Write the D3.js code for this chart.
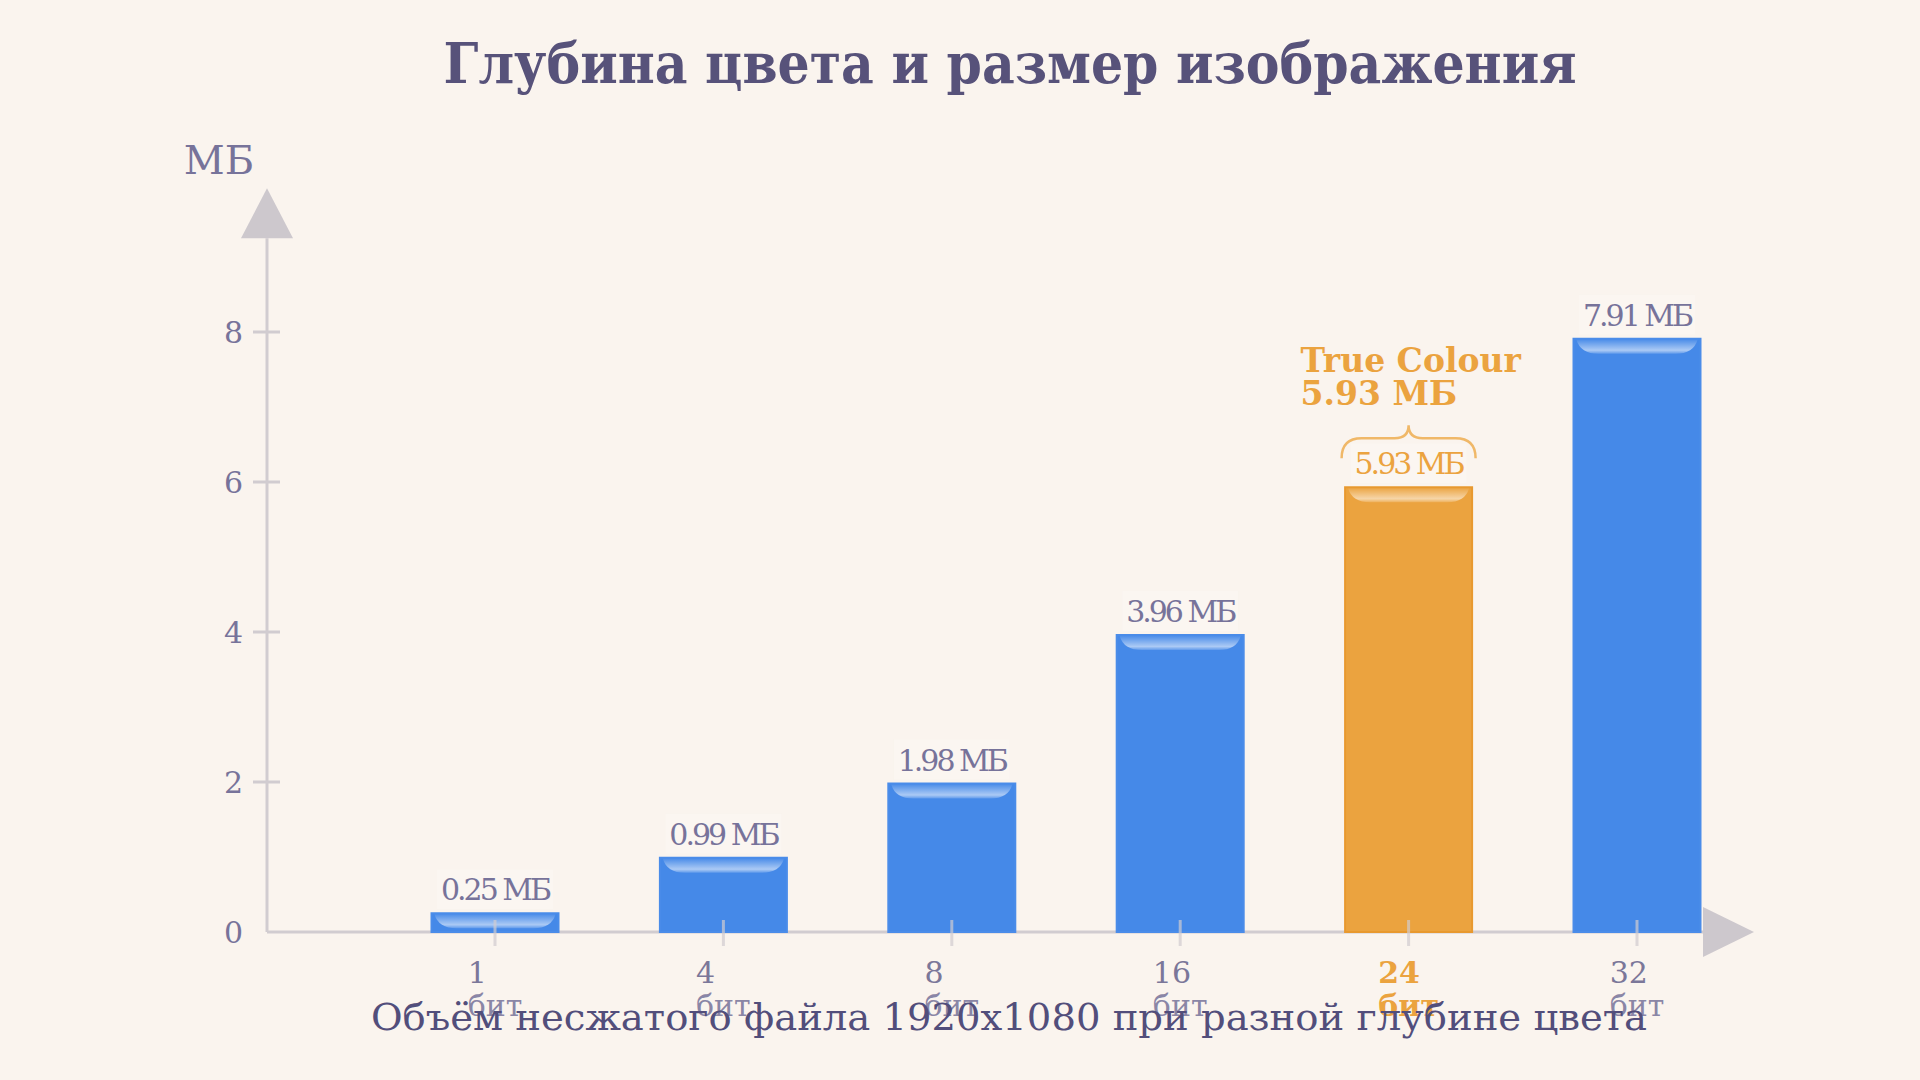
<!DOCTYPE html>
<html>
<head>
<meta charset="utf-8">
<script src="https://cdn.jsdelivr.net/npm/d3@7"></script>
<style>
  html, body { margin: 0; padding: 0; background: #faf4ee; }
  svg { display: block; }
  text { font-family: "DejaVu Serif", serif; }
</style>
</head>
<body>
<div id="chart"></div>
<script>
// data
const categories = ['1', '4', '8', '16', '24', '32'];
const sizes = [0.25, 0.99, 1.98, 3.96, 5.93, 7.91];
const valueLabels = ['0.25 МБ', '0.99 МБ', '1.98 МБ', '3.96 МБ', '5.93 МБ', '7.91 МБ'];
const yTicks = [0, 2, 4, 6, 8];
const highlight = '24';

const width = 1920,
      height = 1080,
      blue = '#4589e8',
      orange = '#eba33f',
      axisGrey = '#d1ccd0',
      labelGrey = '#77739a';

const svg = d3.select('#chart').append('svg')
  .attr('width', width)
  .attr('height', height);

svg.append('rect').attr('width', width).attr('height', height).attr('fill', '#faf4ee');

// glossy strip at the top of each bar
const defs = svg.append('defs');
const hl = defs.append('linearGradient').attr('id', 'hl').attr('x1', 0).attr('y1', 0).attr('x2', 0).attr('y2', 1);
hl.append('stop').attr('offset', '0%').attr('stop-color', '#fff').attr('stop-opacity', 0.05);
hl.append('stop').attr('offset', '75%').attr('stop-color', '#fff').attr('stop-opacity', 0.55);
hl.append('stop').attr('offset', '100%').attr('stop-color', '#fff').attr('stop-opacity', 0.15);

// scales
const x = d3.scalePoint().domain(categories).range([495, 1637]);
const y = d3.scaleLinear().domain([0, 8]).range([932, 332]);
const barW = 127;
const axisLeft = 267, axisRight = 1703, yTop = y(9.25);

// title
svg.append('text')
  .attr('x', 1010).attr('y', 83)
  .attr('text-anchor', 'middle')
  .attr('font-size', 56).attr('font-weight', 'bold')
  .attr('fill', '#57527a')
  .attr('textLength', 1133).attr('lengthAdjust', 'spacingAndGlyphs')
  .text('Глубина цвета и размер изображения');

// y axis
svg.append('line')
  .attr('x1', axisLeft).attr('x2', axisLeft)
  .attr('y1', y(0)).attr('y2', yTop)
  .attr('stroke', axisGrey).attr('stroke-width', 3);
svg.append('path')
  .attr('d', `M${axisLeft - 26},${yTop} L${axisLeft + 26},${yTop} L${axisLeft},${yTop - 50} Z`)
  .attr('fill', '#cdc8cd');
svg.append('text')
  .attr('x', 219).attr('y', 174)
  .attr('text-anchor', 'middle')
  .attr('font-size', 40).attr('fill', labelGrey)
  .text('МБ');

const yAxis = svg.append('g').selectAll('g').data(yTicks).enter().append('g');
yAxis.append('line')
  .attr('x1', axisLeft - 14).attr('x2', axisLeft + 13)
  .attr('y1', d => y(d)).attr('y2', d => y(d))
  .attr('stroke', axisGrey).attr('stroke-width', 3)
  .attr('display', d => d === 0 ? 'none' : null);
yAxis.append('text')
  .attr('x', 243).attr('y', d => y(d) + 11)
  .attr('text-anchor', 'end')
  .attr('font-size', 30).attr('fill', labelGrey)
  .text(d => d);

// x axis line (under the bars)
svg.append('line')
  .attr('x1', axisLeft).attr('x2', axisRight)
  .attr('y1', y(0)).attr('y2', y(0))
  .attr('stroke', axisGrey).attr('stroke-width', 3);

// bars
const bars = svg.append('g').selectAll('g').data(categories).enter().append('g');
bars.append('rect')
  .attr('x', d => x(d) - barW / 2)
  .attr('y', (d, i) => y(sizes[i]))
  .attr('width', barW)
  .attr('height', (d, i) => y(0) - y(sizes[i]))
  .attr('fill', d => d === highlight ? orange : blue)
  .attr('stroke', d => d === highlight ? '#e8992f' : '#4a8ce9')
  .attr('stroke-width', 2);
bars.append('path')
  .attr('d', (d, i) => {
    const x0 = x(d) - barW / 2 + 3, x1 = x(d) + barW / 2 - 3, t = y(sizes[i]) + 1;
    const h = Math.min(14, y(0) - y(sizes[i]) - 3);
    return `M${x0},${t} L${x1},${t} Q${x1 - 4},${t + h} ${x1 - 22},${t + h} L${x0 + 22},${t + h} Q${x0 + 4},${t + h} ${x0},${t} Z`;
  })
  .attr('fill', 'url(#hl)');

// value labels
bars.append('rect')
  .attr('x', d => x(d) - 58)
  .attr('y', (d, i) => y(sizes[i]) - 44)
  .attr('width', 116).attr('height', 40)
  .attr('fill', '#fcf8f4').attr('opacity', 0.5);
bars.append('text')
  .attr('x', d => x(d))
  .attr('y', (d, i) => y(sizes[i]) - 13)
  .attr('text-anchor', 'middle')
  .attr('font-size', 30)
  .attr('letter-spacing', -3)
  .attr('fill', d => d === highlight ? orange : labelGrey)
  .text((d, i) => valueLabels[i]);

// x axis arrow and ticks
svg.append('path')
  .attr('d', `M${axisRight},${y(0) - 25} L${axisRight},${y(0) + 25} L${axisRight + 51},${y(0)} Z`)
  .attr('fill', '#cdc8cd');

const xAxis = svg.append('g').selectAll('g').data(categories).enter().append('g');
xAxis.append('line')
  .attr('x1', d => x(d)).attr('x2', d => x(d))
  .attr('y1', y(0) - 12).attr('y2', y(0) + 14)
  .attr('stroke', axisGrey).attr('stroke-width', 3).attr('opacity', 0.7);

// two-line tick label, left aligned as a block centred on the tick
xAxis.each(function (d) {
  const g = d3.select(this);
  const t = g.append('text')
    .attr('font-size', 30)
    .attr('font-weight', d === highlight ? 'bold' : null)
    .attr('fill', d === highlight ? orange : '#7b7799');
  const l1 = t.append('tspan').attr('y', 983).text(d);
  const l2 = t.append('tspan').attr('y', 1016).text('бит')
    .attr('fill', d === highlight ? orange : '#8a86a6');
  const w = Math.max(l1.node().getComputedTextLength(), l2.node().getComputedTextLength());
  l1.attr('x', x(d) - w / 2);
  l2.attr('x', x(d) - w / 2);
});

// True Colour callout
const hi = categories.indexOf(highlight);
const cx = x(highlight), barTop = y(sizes[hi]);
svg.append('path')
  .attr('d', `M${cx - 67},${barTop - 29} Q${cx - 67},${barTop - 49} ${cx - 47},${barTop - 49} L${cx - 14},${barTop - 49} Q${cx},${barTop - 49} ${cx},${barTop - 62} Q${cx},${barTop - 49} ${cx + 14},${barTop - 49} L${cx + 47},${barTop - 49} Q${cx + 67},${barTop - 49} ${cx + 67},${barTop - 29}`)
  .attr('fill', 'none')
  .attr('stroke', '#f0b868').attr('stroke-width', 2.5);
const callout = svg.append('text')
  .attr('font-size', 33).attr('font-weight', 'bold')
  .attr('fill', orange);
callout.append('tspan').attr('x', cx - 108).attr('y', barTop - 115).text('True Colour');
callout.append('tspan').attr('x', cx - 108).attr('y', barTop - 82).text(valueLabels[hi]);

// subtitle, drawn last so it sits over the tick labels as in the original
svg.append('text')
  .attr('x', 1009).attr('y', 1030)
  .attr('text-anchor', 'middle')
  .attr('font-size', 37)
  .attr('fill', '#524e7b')
  .attr('textLength', 1276).attr('lengthAdjust', 'spacingAndGlyphs')
  .text('Объём несжатого файла 1920x1080 при разной глубине цвета');
</script>
</body>
</html>
